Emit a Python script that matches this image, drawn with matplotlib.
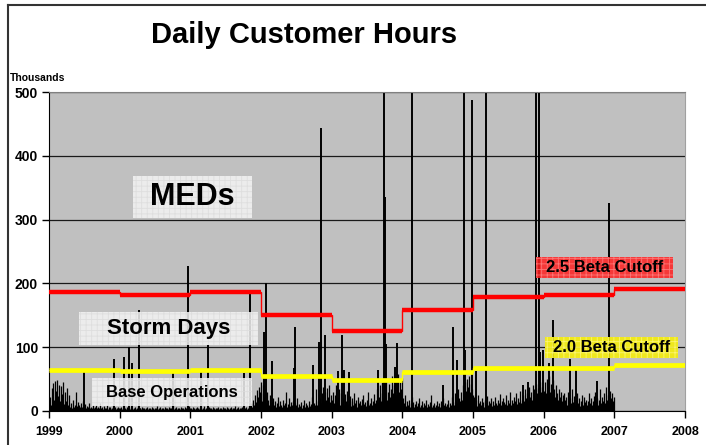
import numpy as np
import matplotlib
matplotlib.use('Agg')
import matplotlib.pyplot as plt
from matplotlib.patches import Rectangle
from matplotlib.lines import Line2D

plt.rcParams['font.family'] = ['Liberation Sans', 'DejaVu Sans']
plt.rcParams['font.weight'] = 'bold'
plt.rcParams['hatch.linewidth'] = 0.6

W, H = 706, 445

# daily customer hours (thousands), max per ~5 day window, one list per year
noise_years = [1999, 2000, 2001, 2002, 2003, 2004, 2005, 2006]
noise_1999 = [14, 22, 9, 36, 44, 18, 47, 31, 48, 24, 41, 16, 39, 27, 45, 11, 30, 15, 36, 9,
              25, 7, 12, 5, 18, 6, 10, 30, 8, 14, 5, 9, 6, 12, 7, 15, 5, 11, 4, 8,
              6, 13, 4, 7, 5, 10, 4, 6, 9, 4, 7, 5, 12, 4, 6, 3, 8, 5, 4, 9,
              3, 6, 4, 7, 3, 5, 8, 4, 6, 3, 5, 7, 4]
noise_2000 = [4, 6, 3, 5, 8, 4, 3, 6, 4, 5, 3, 7, 4, 3, 5, 6, 3, 4, 8, 3,
              5, 4, 3, 6, 4, 5, 3, 4, 7, 3, 4, 5, 3, 6, 4, 3, 5, 4, 8, 3,
              4, 6, 3, 5, 4, 3, 7, 4, 5, 3, 6, 4, 3, 5, 4, 9, 3, 4, 6, 3,
              5, 4, 3, 7, 4, 5, 3, 6, 4, 5, 3, 8, 4]
noise_2001 = [5, 3, 6, 4, 3, 5, 7, 4, 3, 5, 4, 6, 3, 4, 8, 3, 5, 4, 3, 6,
              4, 5, 3, 7, 4, 3, 5, 4, 6, 3, 5, 4, 3, 6, 4, 5, 3, 7, 4, 3,
              5, 6, 4, 3, 5, 4, 8, 3, 4, 6, 3, 5, 4, 7, 3, 5, 4, 6, 3, 5,
              8, 4, 12, 6, 18, 10, 25, 14, 33, 22, 38, 30, 45]
noise_2002 = [28, 15, 40, 22, 35, 12, 30, 18, 10, 25, 8, 14, 20, 9, 16, 7, 12, 22, 8, 15,
              10, 6, 18, 9, 13, 29, 7, 11, 20, 8, 14, 6, 10, 16, 7, 12, 9, 20, 6, 11,
              8, 14, 5, 10, 18, 7, 12, 9, 6, 15, 8, 11, 22, 7, 13, 9, 35, 10, 16, 8,
              20, 12, 28, 9, 38, 15, 30, 18, 36, 22, 40, 14, 25]
noise_2003 = [18, 30, 12, 25, 40, 15, 22, 35, 10, 28, 14, 20, 9, 26, 16, 32, 11, 18, 24, 8,
              15, 20, 10, 28, 13, 18, 7, 22, 12, 16, 9, 19, 25, 11, 14, 8, 17, 30, 10, 13,
              20, 9, 15, 26, 12, 18, 35, 14, 22, 40, 16, 28, 45, 20, 38, 24, 50, 18, 30, 42,
              22, 35, 55, 28, 40, 48, 25, 38, 58, 30, 45, 35, 52]
noise_2004 = [20, 12, 25, 8, 15, 10, 18, 6, 12, 22, 9, 14, 7, 11, 16, 8, 13, 20, 6, 10,
              15, 7, 12, 9, 18, 6, 11, 8, 14, 25, 7, 10, 13, 6, 9, 16, 8, 12, 7, 15,
              10, 6, 20, 9, 13, 8, 11, 18, 7, 12, 9, 22, 14, 10, 28, 16, 12, 35, 20, 15,
              30, 18, 40, 25, 45, 32, 50, 38, 55, 30, 42, 35, 25]
noise_2005 = [15, 22, 10, 18, 8, 25, 12, 16, 9, 20, 14, 7, 18, 11, 24, 9, 15, 12, 20, 8,
              16, 10, 22, 13, 9, 18, 12, 26, 10, 15, 8, 20, 14, 11, 25, 9, 17, 13, 30, 10,
              18, 12, 22, 15, 28, 11, 20, 14, 32, 12, 18, 25, 15, 35, 20, 28, 16, 38, 22, 30,
              18, 40, 25, 35, 20, 42, 28, 36, 24, 45, 30, 38, 28]
noise_2006 = [32, 45, 28, 50, 38, 55, 30, 42, 25, 48, 35, 22, 40, 28, 18, 35, 22, 30, 15, 25,
              12, 28, 18, 22, 10, 30, 16, 20, 12, 35, 14, 24, 10, 18, 28, 12, 20, 8, 16, 25,
              10, 22, 14, 18, 9, 15, 28, 12, 20, 10, 16, 24, 12, 30, 14, 20, 10, 18, 35, 12,
              22, 15, 28, 12, 38, 18, 25, 14, 32, 20, 28, 15, 22]
noise_vals = [noise_1999, noise_2000, noise_2001, noise_2002,
              noise_2003, noise_2004, noise_2005, noise_2006]

# storm days / MEDs (decimal year, thousands); clipped ones run off the top
spike_dates = [1999.49, 1999.92, 2000.06, 2000.13, 2000.18, 2000.27, 2000.76, 2000.96,
               2001.15, 2001.25, 2001.76, 2001.84, 2002.04, 2002.07, 2002.15, 2002.46,
               2002.48, 2002.74, 2002.82, 2002.85, 2002.90, 2003.09, 2003.14, 2003.17,
               2003.25, 2003.65, 2003.74, 2003.75, 2003.77, 2003.90, 2003.93, 2004.13,
               2004.57, 2004.72, 2004.78, 2004.87, 2004.89, 2004.99, 2005.04, 2005.19,
               2005.71, 2005.78, 2005.89, 2005.94, 2005.95, 2005.99, 2006.08, 2006.13,
               2006.37, 2006.46, 2006.76, 2006.92]
spike_vals = [62, 81, 85, 100, 75, 158, 60, 228,
              62, 104, 60, 185, 124, 200, 78, 67,
              132, 72, 108, 443, 119, 63, 119, 65,
              61, 64, 620, 335, 105, 69, 106, 640,
              41, 132, 80, 610, 96, 487, 63, 650,
              41, 46, 600, 630, 93, 96, 75, 143,
              81, 67, 47, 326]

cut_years = [1999, 2000, 2001, 2002, 2003, 2004, 2005, 2006, 2007]
beta25 = [187, 182, 187, 150, 125, 159, 179, 182, 191]
beta20 = [65, 63, 65, 55, 48, 61, 67, 68, 72]

fig = plt.figure(figsize=(W / 100, H / 100), dpi=100)
ax = fig.add_axes([49 / W, 1 - 411 / H, (685 - 49) / W, (411 - 92) / H])
ax.set_facecolor('#c0c0c0')

for yr, vals in zip(noise_years, noise_vals):
    n = len(vals)
    xs = yr + (np.arange(n) + 0.5) / n
    ax.vlines(xs, 0, vals, color='black', lw=0.9, zorder=2)
ax.vlines(spike_dates, 0, spike_vals, color='black', lw=1.4, zorder=2)

edges = cut_years + [2008]
ax.stairs(beta25, edges, baseline=None, color='red', lw=1, zorder=3)
ax.hlines(beta25, cut_years, edges[1:], color='red', lw=3.2, zorder=3)
ax.stairs(beta20, edges, baseline=None, color='yellow', lw=1, zorder=3)
ax.hlines(beta20, cut_years, edges[1:], color='yellow', lw=3.4, zorder=3)

ax.set_xlim(1999, 2008)
ax.set_ylim(0, 500)
ax.set_xticks(cut_years + [2008])
ax.set_yticks(range(0, 501, 100))
ax.yaxis.grid(True, color='#1a1a1a', lw=0.9)
ax.set_axisbelow(True)
ax.tick_params(axis='both', direction='out', length=5, width=1, colors='black')
ax.tick_params(axis='x', labelsize=9, pad=6)
ax.tick_params(axis='y', labelsize=10, pad=3)
ax.spines['top'].set_color('#808080')
ax.spines['right'].set_color('#a0a0a0')
ax.spines['left'].set_color('black')
ax.spines['bottom'].set_color('black')


def px(x, y):
    return x / W, 1 - y / H


def label_box(x0, y0, x1, y1, text, size, fc, hc):
    bx, by = px(x0, y1)
    r = Rectangle((bx, by), (x1 - x0) / W, (y1 - y0) / H, transform=fig.transFigure,
                  facecolor=fc, edgecolor=hc, hatch='+++', lw=0, alpha=0.85, zorder=5)
    fig.add_artist(r)
    tx, ty = px((x0 + x1) / 2, (y0 + y1) / 2)
    fig.text(tx, ty, text, ha='center', va='center', fontsize=size,
             fontweight='bold', color='black', zorder=6)


label_box(133, 176, 252, 218, 'MEDs', 22, '#f4f4f4', '#dcdcdc')
label_box(79, 312, 258, 345, 'Storm Days', 16, '#f4f4f4', '#dcdcdc')
label_box(92, 378, 252, 406, 'Base Operations', 12, '#f4f4f4', '#dcdcdc')
label_box(536, 257, 673, 278, '2.5 Beta Cutoff', 12, '#ff2020', '#ff8080')
label_box(545, 337, 678, 358, '2.0 Beta Cutoff', 12, '#f8f000', '#fff880')

fig.text(*px(304, 35), 'Daily Customer Hours', ha='center', va='center',
         fontsize=21, fontweight='bold')
fig.text(*px(10, 78), 'Thousands', ha='left', va='center', fontsize=7.5, fontweight='bold')

fig.add_artist(Line2D([8 / W, 1], [1 - 5 / H, 1 - 5 / H], transform=fig.transFigure,
                      color='#333333', lw=1.5))
fig.add_artist(Line2D([8 / W, 8 / W], [0, 1 - 5 / H], transform=fig.transFigure,
                      color='#333333', lw=1.5))

fig.savefig('out.png', dpi=100)
